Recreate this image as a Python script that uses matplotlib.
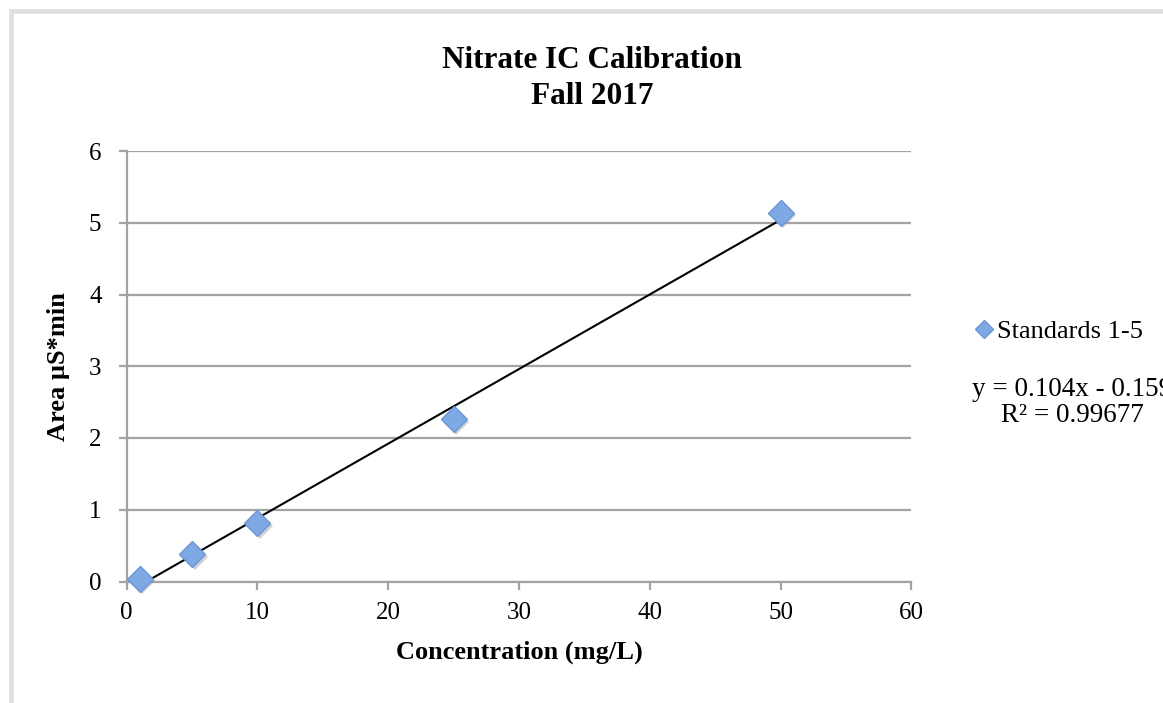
import numpy as np
import matplotlib.pyplot as plt
from matplotlib.patches import Rectangle

plt.rcParams['font.family'] = ['Liberation Serif', 'DejaVu Serif']

# standards: concentration (mg/L) vs peak area (uS*min)
conc = [1, 5, 10, 25, 50]
area = [0.04, 0.38, 0.81, 2.26, 5.14]

# linear trendline as reported
slope = 0.104
intercept = -0.159
r_squared = 0.99677

xticks = [0, 10, 20, 30, 40, 50, 60]
yticks = [0, 1, 2, 3, 4, 5, 6]

W, H = 1163, 703
fig = plt.figure(figsize=(W / 100, H / 100), dpi=100)


def fx(px):
    return px / W


def fy(py):
    return 1 - py / H


# light gray chart frame
fig.patches.append(Rectangle((fx(10.5), -0.05), 1.2, fy(11.5) + 0.05,
                             transform=fig.transFigure, fill=False,
                             edgecolor='#e0e0e0', linewidth=3.5))

ax = fig.add_axes([fx(126.5), fy(581.5), fx(911.5 - 126.5), (581.5 - 151) / H])

grid_c = '#a3a3a3'
ax.set_xlim(0, 60)
ax.set_ylim(0, 6)
ax.set_xticks(xticks)
ax.set_yticks(yticks)
ax.yaxis.grid(True, color=grid_c, linewidth=1.6)
ax.set_axisbelow(True)
for s in ['top', 'right']:
    ax.spines[s].set_visible(False)
for s in ['left', 'bottom']:
    ax.spines[s].set_color(grid_c)
    ax.spines[s].set_linewidth(1.6)
ax.tick_params(direction='out', length=6, width=1.6, color=grid_c, labelsize=18)
ax.tick_params(axis='x', pad=9)
ax.tick_params(axis='y', pad=12)

# trendline
xt = np.array([min(conc), max(conc)])
ax.plot(xt, slope * xt + intercept, color='black', linewidth=1.5, zorder=3)

# shadowed diamond markers
ax.plot(np.array(conc) + 0.2, np.array(area) - 0.035, 'D', ms=13,
        color='#9a9a9a', alpha=0.45, markeredgewidth=0, zorder=3.5, clip_on=False)
ax.plot(conc, area, 'D', ms=13, markerfacecolor='#7ea9e4',
        markeredgecolor='#6a96d4', markeredgewidth=1, zorder=4, clip_on=False,
        label='Standards 1-5')

ax.set_xlabel('Concentration (mg/L)', fontsize=19, fontweight='bold', labelpad=12)
ax.set_ylabel('Area µS*min', fontsize=19, fontweight='bold', labelpad=14)

fig.text(fx(592), fy(67.7), 'Nitrate IC Calibration', ha='center',
         va='baseline', fontsize=22.5, fontweight='bold')
fig.text(fx(592), fy(104.3), 'Fall 2017', ha='center',
         va='baseline', fontsize=22.5, fontweight='bold')

leg = fig.legend(*ax.get_legend_handles_labels(), loc='center left',
                 bbox_to_anchor=(fx(975), fy(331)), frameon=False,
                 fontsize=19, handletextpad=0.15, handlelength=0.7,
                 borderaxespad=0, borderpad=0)
for h in leg.legend_handles:
    h.set_markersize(9)

fig.text(fx(1072), fy(389), f'y = {slope}x - {abs(intercept)}',
         ha='center', va='center', fontsize=19.5)
fig.text(fx(1072), fy(415), f'R² = {r_squared}',
         ha='center', va='center', fontsize=19.5)

fig.savefig('out.png', dpi=100)
